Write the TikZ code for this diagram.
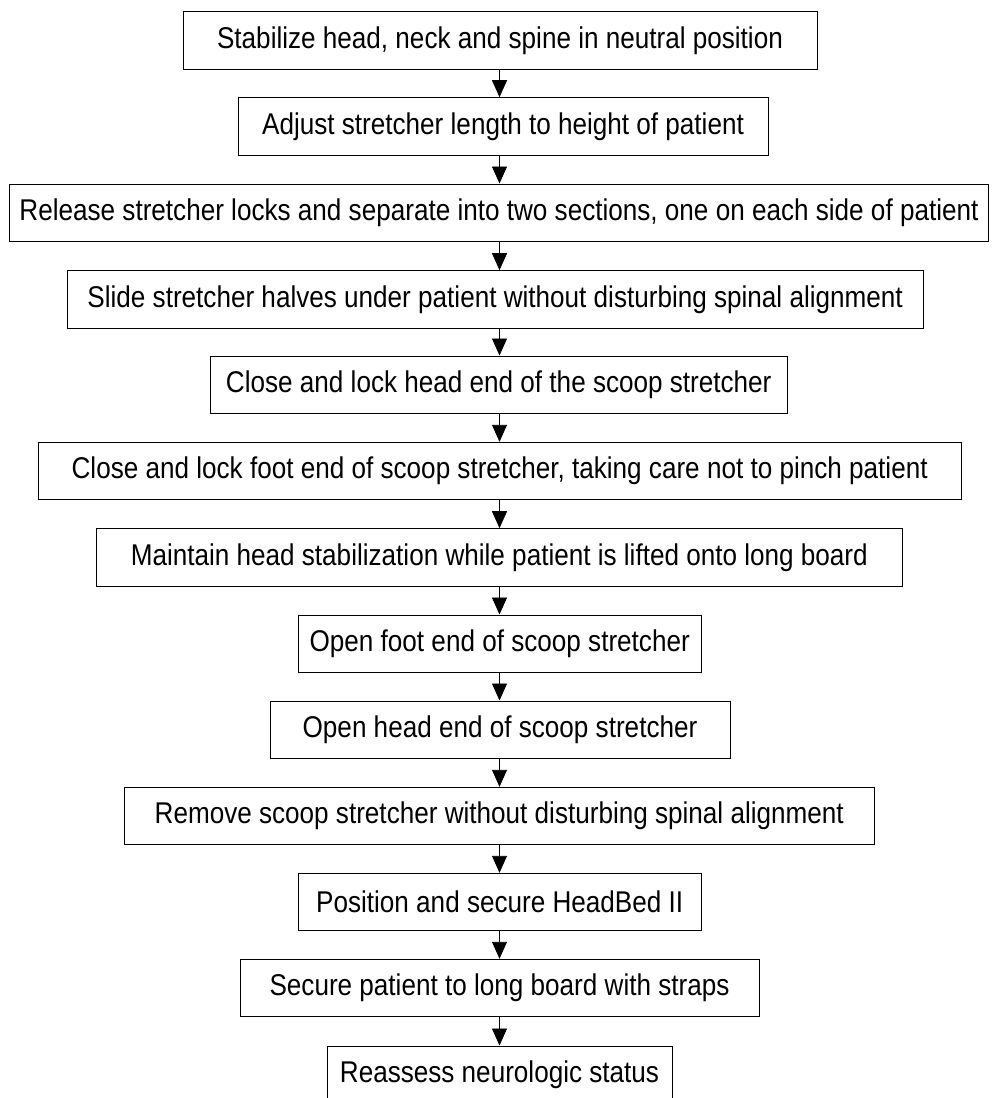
\documentclass[tikz,border=0pt]{standalone}
\usepackage{fontspec}
\setmainfont[FakeStretch=0.87]{Liberation Sans}
\usetikzlibrary{arrows.meta}
\begin{document}
\begin{tikzpicture}[x=1pt,y=-1pt,
  stepbox/.style={draw=black, line width=1pt, minimum height=57.5pt,
    inner sep=0pt, font=\fontsize{30}{36}\selectfont},
  flow/.style={draw=black, line width=0.9pt,
    -{Triangle[width=15pt,length=17pt]}}]
\useasboundingbox (0,0) rectangle (991,1098);
\coordinate (axis) at (499.5,0);

% procedure steps, top to bottom
\node[stepbox, minimum width=634pt]   (s1)  at (500,40.45)    {Stabilize head, neck and spine in neutral position};
\node[stepbox, minimum width=530pt]   (s2)  at (503,126.45)   {Adjust stretcher length to height of patient};
\node[stepbox, minimum width=979pt]   (s3)  at (499,212.75)   {Release stretcher locks and separate into two sections, one on each side of patient};
\node[stepbox, minimum width=855.7pt] (s4)  at (495.15,299.45) {Slide stretcher halves under patient without disturbing spinal alignment};
\node[stepbox, minimum width=576.5pt] (s5)  at (498.75,384.75) {Close and lock head end of the scoop stretcher};
\node[stepbox, minimum width=922.7pt] (s6)  at (499.65,471.05) {Close and lock foot end of scoop stretcher, taking care not to pinch patient};
\node[stepbox, minimum width=806.6pt] (s7)  at (499.3,557.45)  {Maintain head stabilization while patient is lifted onto long board};
\node[stepbox, minimum width=402.6pt] (s8)  at (499.7,643.75)  {Open foot end of scoop stretcher};
\node[stepbox, minimum width=460pt]   (s9)  at (500,729.75)    {Open head end of scoop stretcher};
\node[stepbox, minimum width=749.5pt] (s10) at (499.25,816.05) {Remove scoop stretcher without disturbing spinal alignment};
\node[stepbox, minimum width=402.6pt] (s11) at (499.7,902.05)  {Position and secure HeadBed II};
\node[stepbox, minimum width=519pt]   (s12) at (499.5,988.05)  {Secure patient to long board with straps};
\node[stepbox, minimum width=345pt]   (s13) at (499.5,1074.75) {Reassess neurologic status};

% connectors along the common vertical axis
\foreach \a/\b in {s1/s2,s2/s3,s3/s4,s4/s5,s5/s6,s6/s7,s7/s8,s8/s9,s9/s10,s10/s11,s11/s12,s12/s13}
  \draw[flow] (\a.south -| axis) -- (\b.north -| axis);
\end{tikzpicture}
\end{document}
